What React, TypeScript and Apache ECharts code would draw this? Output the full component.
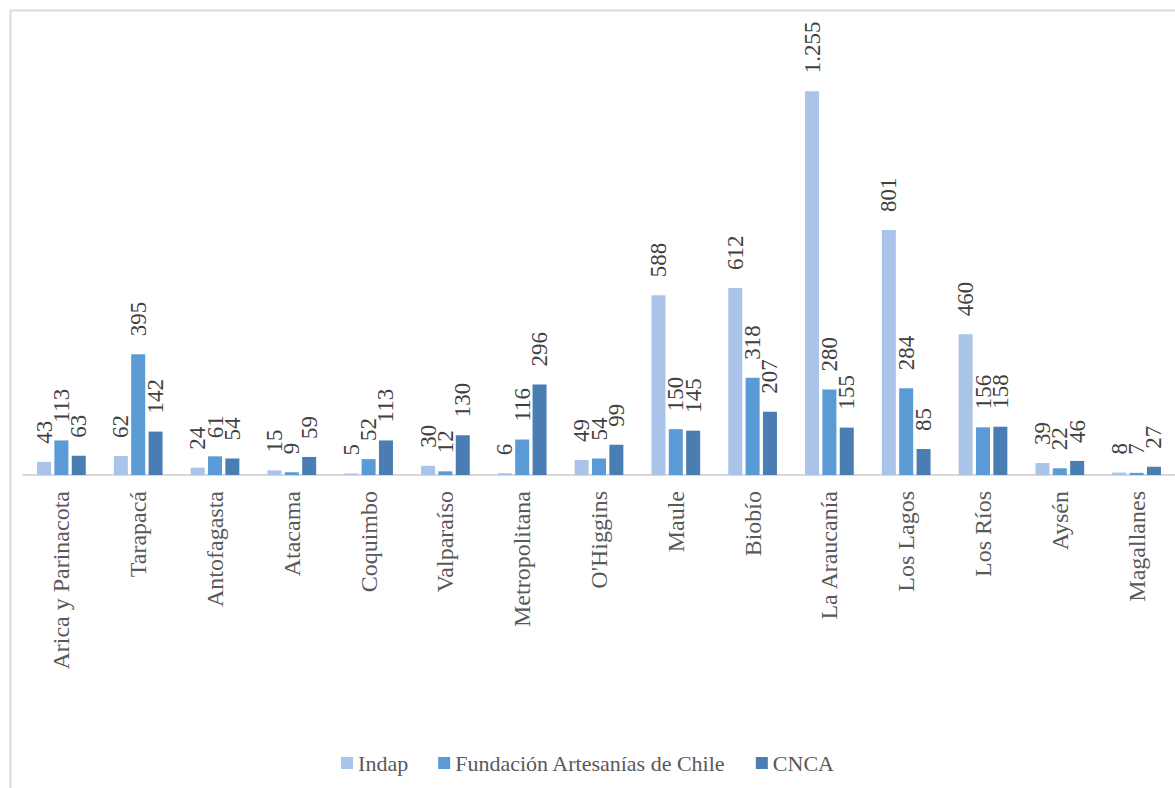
import React, { useEffect, useRef } from "react";
import * as echarts from "echarts";

const categories = [
  "Arica y Parinacota",
  "Tarapacá",
  "Antofagasta",
  "Atacama",
  "Coquimbo",
  "Valparaíso",
  "Metropolitana",
  "O'Higgins",
  "Maule",
  "Biobío",
  "La Araucanía",
  "Los Lagos",
  "Los Ríos",
  "Aysén",
  "Magallanes",
];
const indap = [43, 62, 24, 15, 5, 30, 6, 49, 588, 612, 1255, 801, 460, 39, 8];
const fundacion = [113, 395, 61, 9, 52, 12, 116, 54, 150, 318, 280, 284, 156, 22, 7];
const cnca = [63, 142, 54, 59, 113, 130, 296, 99, 145, 207, 155, 85, 158, 46, 27];
const seriesNames = ["Indap", "Fundación Artesanías de Chile", "CNCA"];
const colors = ["#a9c4e8", "#5b9bd5", "#4a7db1"];

const fmt = (v: number) => String(v).replace(/\B(?=(\d{3})+(?!\d))/g, ".");
const FONT = "Liberation Serif, DejaVu Serif, serif";

export default function App() {
  const ref = useRef<HTMLDivElement>(null);
  useEffect(() => {
    if (!ref.current) return;
    const chart = echarts.init(ref.current, undefined, { renderer: "svg" });
    const mk = (name: string, data: number[], color: string) => ({
      name,
      type: "bar",
      data,
      barWidth: 14,
      barGap: "24%",
      itemStyle: { color },
      label: {
        show: true,
        position: "top",
        rotate: 90,
        align: "left",
        verticalAlign: "middle",
        distance: 18,
        fontFamily: FONT,
        fontWeight: "normal",
        fontSize: 23,
        color: "#404040",
        formatter: (p: any) => fmt(p.value),
      },
    });
    chart.setOption({
      animation: false,
      color: colors,
      graphic: [
        {
          type: "rect",
          shape: { x: 10.5, y: 10.5, width: 1250, height: 900 },
          style: { fill: "none", stroke: "#d9d9d9", lineWidth: 2 },
          silent: true,
        },
      ],
      grid: { left: 23, top: 47, width: 1160, bottom: 313, containLabel: false },
      legend: {
        data: seriesNames,
        top: 747,
        left: "center",
        icon: "rect",
        itemWidth: 12,
        itemHeight: 12,
        itemGap: 30,
        textStyle: { fontFamily: FONT, fontWeight: "normal", fontSize: 22, color: "#595959" },
      },
      xAxis: {
        type: "category",
        data: categories,
        axisLine: { lineStyle: { color: "#d9d9d9", width: 2 } },
        axisTick: { show: false },
        axisLabel: {
          rotate: 90,
          interval: 0,
          margin: 16,
          fontFamily: FONT,
          fontSize: 24,
          color: "#595959",
        },
      },
      yAxis: {
        type: "value",
        min: 0,
        max: 1400,
        show: false,
        splitLine: { show: false },
      },
      series: [
        mk(seriesNames[0], indap, colors[0]),
        mk(seriesNames[1], fundacion, colors[1]),
        mk(seriesNames[2], cnca, colors[2]),
      ],
    });
    return () => chart.dispose();
  }, []);
  return (
    <div
      ref={ref}
      style={{ position: "fixed", left: 0, top: 0, width: 1175, height: 788, background: "#fff" }}
    />
  );
}
